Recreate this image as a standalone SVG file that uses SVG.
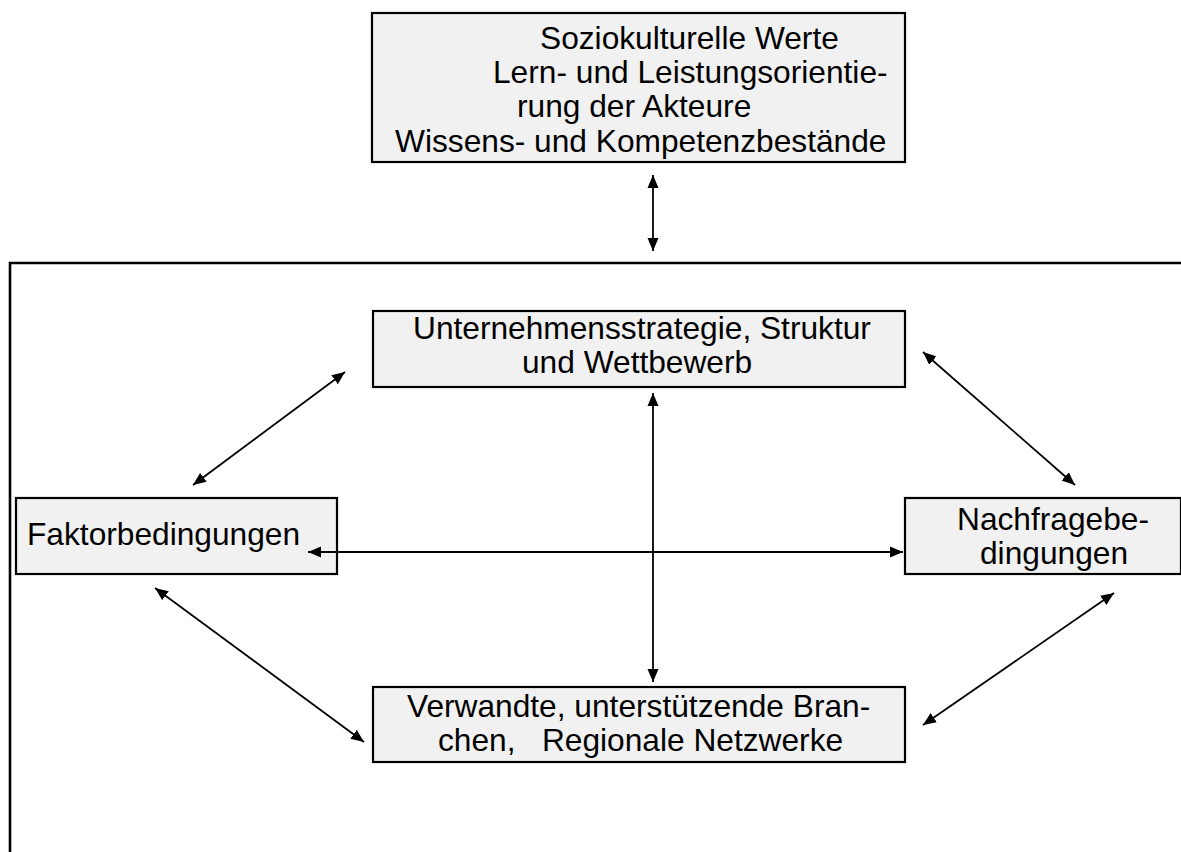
<svg xmlns="http://www.w3.org/2000/svg" width="1181" height="852" viewBox="0 0 1181 852">
<style>
.box{fill:#f1f1f1;stroke:#000;stroke-width:2.2}
.t{font-family:"Liberation Sans",Arial,sans-serif;font-size:31.7px;fill:#000}
.c{stroke:#000;stroke-width:1.8;fill:none;marker-start:url(#ah);marker-end:url(#ah)}
.frame{stroke:#000;stroke-width:2.6;fill:none}
</style>
<defs>
<marker id="ah" markerUnits="userSpaceOnUse" markerWidth="14" markerHeight="12" refX="13" refY="5.5" orient="auto-start-reverse" viewBox="0 0 14 11">
<path d="M0,0 L13,5.5 L0,11 z" fill="#000"/>
</marker>
</defs>
<rect width="1181" height="852" fill="#fff"/>
<g id="frame">
<path class="frame" d="M10,852 L10,263 L1181,263"/>
</g>
<g id="node-werte">
<rect class="box" x="372" y="13" width="533" height="149"/>
<text class="t" x="540" y="49">Soziokulturelle Werte</text>
<text class="t" x="493" y="83">Lern- und Leistungsorientie-</text>
<text class="t" x="517" y="117">rung der Akteure</text>
<text class="t" x="395" y="152">Wissens- und Kompetenzbestände</text>
</g>
<g id="node-strategie">
<rect class="box" x="373" y="311" width="532" height="76"/>
<text class="t" x="413" y="339">Unternehmensstrategie, Struktur</text>
<text class="t" x="522" y="373">und Wettbewerb</text>
</g>
<g id="node-faktor">
<rect class="box" x="16" y="498" width="321" height="76"/>
<text class="t" x="27" y="545">Faktorbedingungen</text>
</g>
<g id="node-nachfrage">
<rect class="box" x="905" y="498" width="276" height="76"/>
<text class="t" x="957" y="530">Nachfragebe-</text>
<text class="t" x="980" y="564">dingungen</text>
</g>
<g id="node-branchen">
<rect class="box" x="373" y="687" width="532" height="75"/>
<text class="t" x="407" y="717">Verwandte, unterstützende Bran-</text>
<text class="t" x="438" y="751" xml:space="preserve">chen,   Regionale Netzwerke</text>
</g>
<g id="connectors">
<line class="c" x1="653" y1="175" x2="653" y2="251"/>
<line class="c" x1="653" y1="393" x2="653" y2="682"/>
<line class="c" x1="308" y1="552" x2="903" y2="552"/>
<line class="c" x1="345" y1="372" x2="193" y2="485"/>
<line class="c" x1="923" y1="352" x2="1075" y2="485"/>
<line class="c" x1="155" y1="588" x2="364" y2="742"/>
<line class="c" x1="1114" y1="593" x2="923" y2="725"/>
</g>
</svg>
